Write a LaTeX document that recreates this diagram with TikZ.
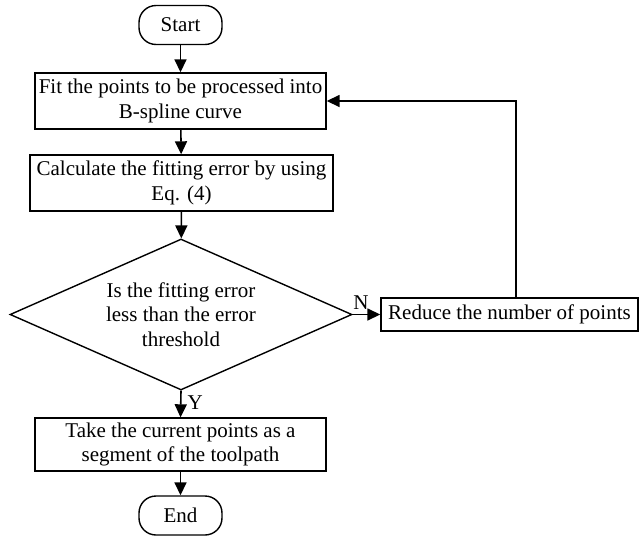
\documentclass[tikz,border=0pt]{standalone}
\usepackage{fontspec}
\setmainfont{Liberation Serif}
\usetikzlibrary{shapes.geometric,arrows.meta}
\begin{document}
\begin{tikzpicture}[x=1pt,y=-1pt,
  every node/.style={font=\fontsize{21}{24.5}\selectfont, inner sep=0pt, align=center},
  term/.style={draw, line width=1.4pt, rounded corners=17pt, minimum width=83pt, minimum height=39pt},
  proc/.style={draw, line width=1.4pt, minimum height=54pt},
  dec/.style={draw, line width=1.4pt, diamond, aspect=2.2, minimum width=342pt, minimum height=151pt},
  arr/.style={line width=1.6pt, -{Triangle[length=13pt,width=12pt]}},
  lbl/.style={font=\fontsize{21}{24}\selectfont}
]
\useasboundingbox (0,0) rectangle (641,536);
\node[term] (start) at (180.5,25) {Start};
\node[proc, minimum width=291pt, minimum height=56pt] (fit) at (180.5,101) {Fit the points to be processed into\\B-spline curve};
\node[proc, minimum width=303pt, minimum height=56pt] (calc) at (181.5,183) {Calculate the fitting error by using\\Eq. (4)};
\node[dec] (dec) at (181,314.5) {Is the fitting error\\less than the error\\threshold};
\node[proc, minimum width=257pt, minimum height=33pt] (red) at (509.5,314.5) {Reduce the number of points};
\node[proc, minimum width=291pt, minimum height=53pt] (take) at (180.5,444.5) {Take the current points as a\\segment of the toolpath};
\node[term] (end) at (180.5,515.5) {End};
\coordinate (corner) at (516,101);
\draw[arr] (start) -- (fit);
\draw[arr] (fit) -- (calc);
\draw[arr] (calc) -- (dec);
\draw[arr] (dec.east) -- node[lbl, pos=0.3, anchor=south, yshift=4pt] {N} (red.west);
\draw[arr] (dec.south) -- node[lbl, anchor=west, xshift=6pt, yshift=1pt] {Y} (take.north);
\draw[arr] (take) -- (end);
\draw[arr] (red.north -| corner) -- (corner) -- (fit.east);
\end{tikzpicture}
\end{document}
